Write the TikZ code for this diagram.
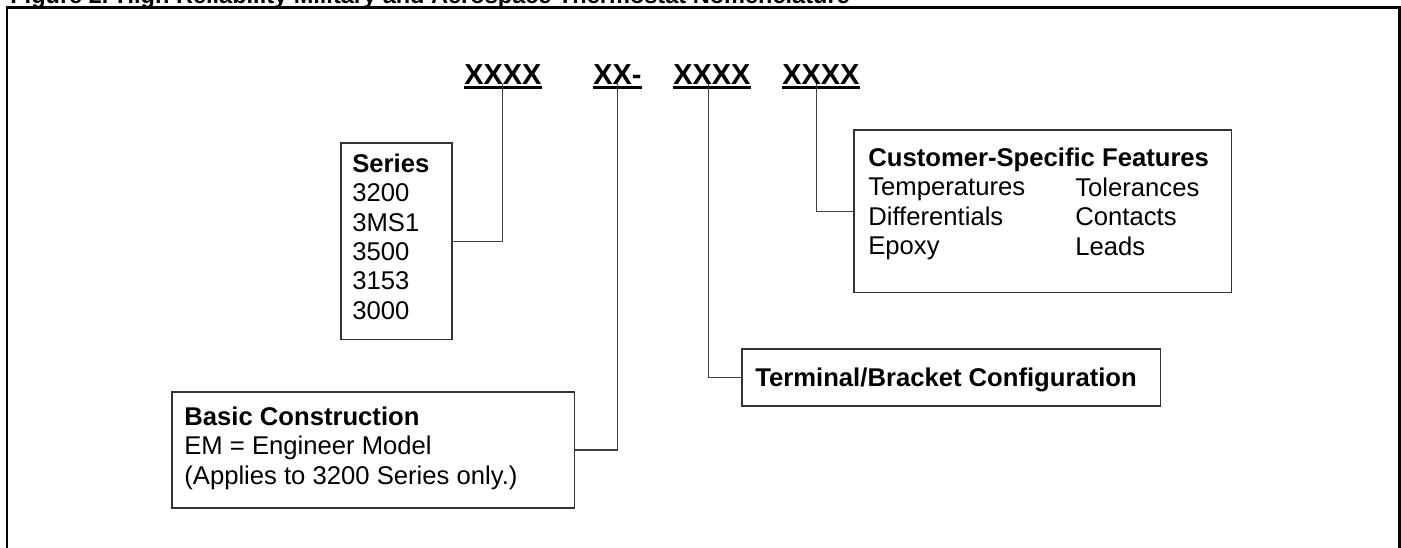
\documentclass[tikz,border=0pt]{standalone}
\usepackage{fontspec}
\setmainfont{Liberation Sans}
\tikzset{
  box/.style={draw=black!80, line width=0.6pt, inner sep=0pt, outer sep=0pt, anchor=north west},
  codelbl/.style={font=\fontsize{16.45}{18}\selectfont\bfseries, inner sep=0pt, anchor=base west},
  boxtxt/.style={font=\fontsize{14.6}{16.72}\selectfont, inner sep=0pt, anchor=north west, align=left},
  leader/.style={draw=black!75, line width=0.6pt},
}
\newcommand{\firstline}{\rule{0pt}{11.34pt}}

\begin{document}
\begin{tikzpicture}[x=0.02cm, y=-0.02cm]
    \useasboundingbox (0,0) rectangle (1401,548);
    % title, cut off by the top edge
    \node[font=\fontsize{13.4}{15}\selectfont\bfseries, inner sep=0pt, anchor=base west] (title) at (10,3) {Figure 2. High Reliability Military and Aerospace Thermostat Nomenclature};
    % frame, open at the bottom
    \draw[line width=1.45pt] (7,560) -- (7,7.5) -- (1399.3,7.5) -- (1399.3,560);

    % part number fields
    \node[codelbl] (c1) at (464,84) {XXXX};
    \node[codelbl] (c2) at (593,84) {XX-};
    \node[codelbl] (c3) at (673,84) {XXXX};
    \node[codelbl] (c4) at (782,84) {XXXX};
    \foreach \n in {c1,c2,c3,c4}
        \draw[line width=1.7pt] ([yshift=-2pt]\n.base west) -- ([yshift=-2pt]\n.base east);

    % boxes
    \node[box, minimum width=2.22cm, minimum height=3.94cm] (series) at (341,143) {};
    \node[box, minimum width=7.56cm, minimum height=3.26cm] (cust) at (854,130) {};
    \node[box, minimum width=8.38cm, minimum height=1.14cm] (term) at (742,349) {};
    \node[box, minimum width=8.06cm, minimum height=2.32cm] (basic) at (172,392) {};

    % box texts
    \node[boxtxt] (seriestxt) at (352,152) {\firstline\textbf{Series}\\3200\\3MS1\\3500\\3153\\3000};
    \node[boxtxt] (custtxt) at (868,146) {\firstline\textbf{Customer-Specific Features}\\Temperatures\\Differentials\\Epoxy};
    \node[boxtxt] (custtxt2) at (1075,176) {\firstline Tolerances\\Contacts\\Leads};
    \node[boxtxt] (termtxt) at (755,366) {\firstline\textbf{Terminal/Bracket Configuration}};
    \node[boxtxt] (basictxt) at (184,405) {\firstline\textbf{Basic Construction}\\EM = Engineer Model\\(Applies to 3200 Series only.)};

    % leaders
    \draw[leader] (c1.south) |- (series.east);
    \draw[leader] (c2.south) |- (basic.east);
    \draw[leader] ([xshift=-2pt]c3.south) |- (term.west);
    \draw[leader] ([xshift=-2.5pt]c4.south) |- (cust.west);
\end{tikzpicture}
\end{document}
